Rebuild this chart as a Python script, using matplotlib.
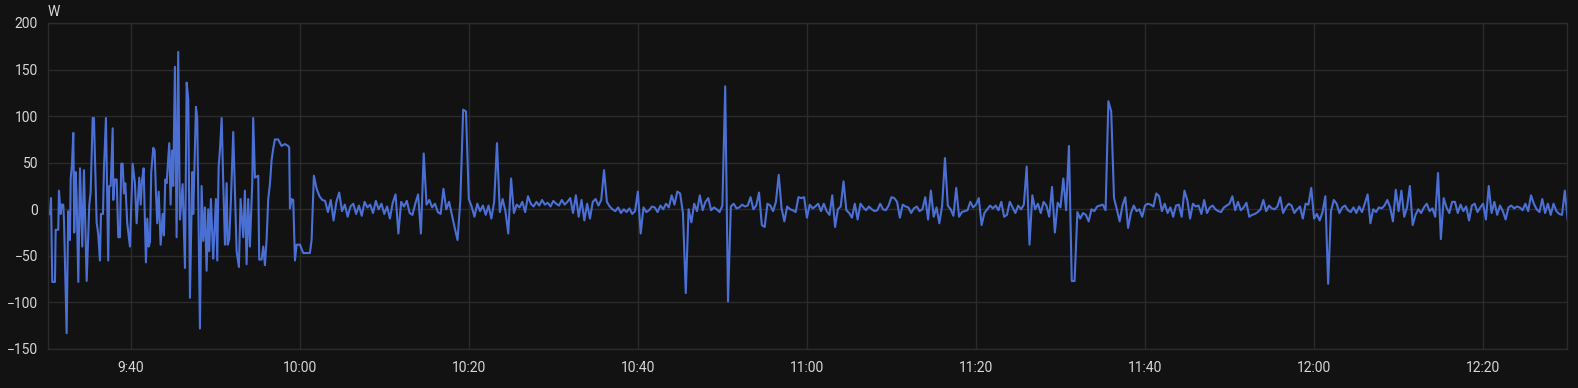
import numpy as np
import pandas as pd
import matplotlib
matplotlib.use("Agg")
import matplotlib.pyplot as plt
import matplotlib.dates as mdates
from matplotlib.ticker import FuncFormatter

plt.rcParams['font.family'] = ['Roboto', 'DejaVu Sans']

BG = "#121212"
GRID = "#2b2b2c"
TXT = "#d6d6da"
LINE = "#4b70d5"

START = pd.Timestamp("2024-01-01 09:30:00")

# 9:30 - 10:02: busy part, picked point by point (minutes after 9:30, W)
early_min = [0.00, 0.06, 0.27, 0.45, 0.57, 0.72, 1.04, 1.12, 1.43, 1.51,
             1.71, 1.83, 2.02, 2.11, 2.42, 2.61, 2.81, 2.90, 3.05, 3.21,
             3.32, 3.49, 3.61, 3.80, 4.00, 4.27, 4.47, 4.79, 5.10, 5.26,
             5.50, 5.65, 5.97, 6.16, 6.36, 6.48, 6.72, 6.84, 7.07, 7.34,
             7.46, 7.63, 7.87, 7.94, 8.10, 8.34, 8.53, 8.73, 8.88, 9.05,
             9.20, 9.36, 9.59, 9.91, 10.23, 10.50, 10.70, 11.01, 11.18, 11.33,
             11.53, 11.80, 11.96, 12.12, 12.28, 12.43, 12.67, 12.83, 12.99, 13.14,
             13.31, 13.54, 13.78, 13.93, 14.09, 14.25, 14.56, 14.72, 14.88, 15.03,
             15.23, 15.43, 15.62, 15.82, 16.14, 16.42, 16.62, 16.81, 17.01, 17.28,
             17.40, 17.72, 17.87, 18.19, 18.39, 18.58, 18.78, 18.98, 19.17, 19.29,
             19.49, 19.76, 19.88, 20.08, 20.24, 20.40, 20.56, 20.76, 20.95, 21.15,
             21.35, 21.47, 21.66, 21.86, 22.13, 22.33, 22.53, 22.80, 23.00, 23.31,
             23.51, 23.71, 23.90, 24.10, 24.38, 24.49, 24.70, 25.09, 25.20, 25.49,
             25.68, 25.88, 26.08, 26.27, 26.47, 26.67, 26.86, 27.06, 27.45, 27.85,
             28.24, 28.63, 28.75, 28.84, 29.04, 29.23, 29.43, 29.63, 30.02, 30.41,
             30.81, 31.20, 31.40, 31.67]
early_w = [30, -17, -5, -5, 12, -78, -78, -22, -22, 20,
           -5, 5, 5, -13, -133, -2, -33, 33, 48, 82,
           -25, 40, 10, -78, 44, -40, 42, -77, 5, 18,
           98, 98, -14, -27, -55, -5, -5, 45, 98, -55,
           25, 25, 87, 10, 32, 32, -30, -30, 49, 49,
           17, 28, -15, -40, 49, 28, -15, 34, 5, 30,
           44, -57, -10, -40, -35, 40, 66, 63, 17, -15,
           19, -38, -5, -28, 32, 28, 71, 5, 63, 25,
           153, -30, 169, -11, 27, -63, 136, 118, -95, 40,
           -5, 110, 98, -128, 25, -34, 2, -66, 0, -45,
           11, -53, -30, 11, -55, 45, 64, 98, 28, -38,
           28, -38, -32, 11, 83, 20, -45, -62, 11, -30,
           20, -59, 11, -40, 28, 98, 34, 36, -54, -54,
           -40, -60, -32, 11, 27, 53, 65, 75, 75, 68,
           70, 68, 66, 1, 11, 10, -55, -38, -38, -47,
           -47, -47, -33, 36]

# from 10:02 on: one reading every 20 s, 30 readings per block
w_1002 = [22, 14, 10, 9, -3, 10, -12, 8, 18, -2, 5, -8, 3, 6, -5,
          4, -7, 8, 2, 5, -4, 9, 0, 6, -5, 3, -10, 7, 16, -26]
w_1012 = [8, 3, 9, -4, -6, 6, 16, -26, 60, 5, 10, 2, 6, -3, -5,
          22, 0, 8, -6, -20, -33, 10, 107, 105, 11, 3, -8, 6, -2, 4]
w_1022 = [-6, 4, -10, 8, 71, -3, 11, -2, -26, 33, -4, 5, 2, 8, -3,
          14, 6, 3, 8, 4, 10, 5, 7, 3, 9, 6, 4, 10, 5, 8]
w_1032 = [12, -4, 15, -8, 10, -12, 6, -10, 8, 11, 4, 10, 42, 8, 3,
          0, -2, 2, -4, 0, -3, 1, -5, -2, 19, -26, 2, -3, -1, 3]
w_1042 = [2, -3, 4, 0, 6, 2, 15, 5, 19, 17, -4, -90, 0, -14, 6,
          -2, 15, -1, 8, 12, -1, 2, 0, -3, 4, 132, -99, 3, 6, 1]
w_1052 = [2, 5, 3, 4, 13, 0, 4, 18, -17, -19, 6, 4, -2, 8, 37,
          1, -13, 3, 0, -1, -3, 13, 12, 13, -9, 5, 1, 3, 6, -2]
w_1102 = [6, -2, -6, 15, -19, 0, 3, 30, -1, -4, -9, 6, -11, 6, 2,
          -1, 3, 0, -2, -1, 6, 0, -1, 4, 13, 12, 8, -9, 5, 3]
w_1112 = [2, -4, 1, 3, -2, 0, 13, -11, 20, -8, 2, -15, 4, 55, 4,
          0, -7, 23, -8, -3, -2, -1, 8, 2, 5, 12, -17, -4, 0, 4]
w_1122 = [1, 4, -1, 8, -8, -6, 8, 2, -4, 4, 0, 5, 46, -38, 15,
          0, 6, -4, 8, 4, -8, 24, -25, 7, 2, 33, -1, 68, -77, -77]
w_1132 = [-3, -10, -4, -6, -13, 0, -2, 3, 4, 5, -1, 116, 105, 12, 0,
          -13, 4, 13, -20, -4, 4, -2, 0, -8, 4, 6, 5, 3, 17, 14]
w_1142 = [-2, 6, -4, 2, -8, 4, 5, -8, 20, 10, -10, 6, 3, 4, -5,
          10, -4, 2, 4, 0, -2, -3, 2, 4, 6, 14, -1, 8, -1, 2]
w_1152 = [7, -8, -6, -5, -3, 0, 10, -2, 4, 1, 0, 3, 13, -4, 2,
          6, 4, -4, 0, 3, -10, 6, 5, 23, -10, -5, -12, -3, 14, -80]
w_1202 = [-2, 10, 6, -4, 2, 4, -1, -3, 2, -4, 3, -3, 6, 16, -15,
          0, -3, 2, 1, 4, 10, 2, -13, 21, -2, 20, -8, 2, 25, -17]
w_1212 = [-6, 0, -4, 2, 6, -2, 1, -8, 39, -32, 12, 2, -4, 8, 8,
          -4, 5, -2, 3, -12, 4, 6, -3, 2, 6, -11, 25, -4, 8, -6]
w_1222 = [4, -2, -11, 2, 4, 1, 3, 2, -1, 6, -2, 15, 6, 0, -3,
          11, -4, 6, -6, 6, -2, -5, -6, 20, -11]

late_w = (w_1002 + w_1012 + w_1022 + w_1032 + w_1042 + w_1052 + w_1102 +
          w_1112 + w_1122 + w_1132 + w_1142 + w_1152 + w_1202 + w_1212 + w_1222)
late_min = 32 + np.arange(len(late_w)) / 3.0

minutes = np.concatenate([early_min, late_min])
watts = early_w + late_w
times = START + pd.to_timedelta(minutes, unit="min")

W, H = 1578, 388
fig = plt.figure(figsize=(W / 100, H / 100), dpi=100, facecolor=BG)
ax = fig.add_axes([47.7 / W, 1 - 349 / H, (1567.3 - 47.7) / W, 326 / H])
ax.set_facecolor(BG)

ax.plot(times, watts, color=LINE, lw=1.5, solid_joinstyle="round")

ax.set_ylim(-150, 200)
ax.set_yticks(range(-150, 201, 50))
ax.set_xlim(START + pd.Timedelta(minutes=0.18), START + pd.Timedelta(minutes=179.96))
ax.xaxis.set_major_locator(mdates.MinuteLocator(byminute=[0, 20, 40]))


def hm(x, pos):
    d = mdates.num2date(x)
    return f"{d.hour}:{d.minute:02d}"


ax.xaxis.set_major_formatter(FuncFormatter(hm))

ax.grid(True, color=GRID, lw=1)
ax.set_axisbelow(True)
for s in ax.spines.values():
    s.set_color(GRID)
    s.set_linewidth(1)

ax.tick_params(axis="both", length=0, colors=TXT, labelsize=10)
ax.tick_params(axis="y", pad=7)
ax.tick_params(axis="x", pad=9)

fig.text(47.5 / W, 1 - 12 / H, "W", color=TXT, fontsize=10, va="center", ha="left")

fig.savefig("out.png", dpi=100, facecolor=BG)
